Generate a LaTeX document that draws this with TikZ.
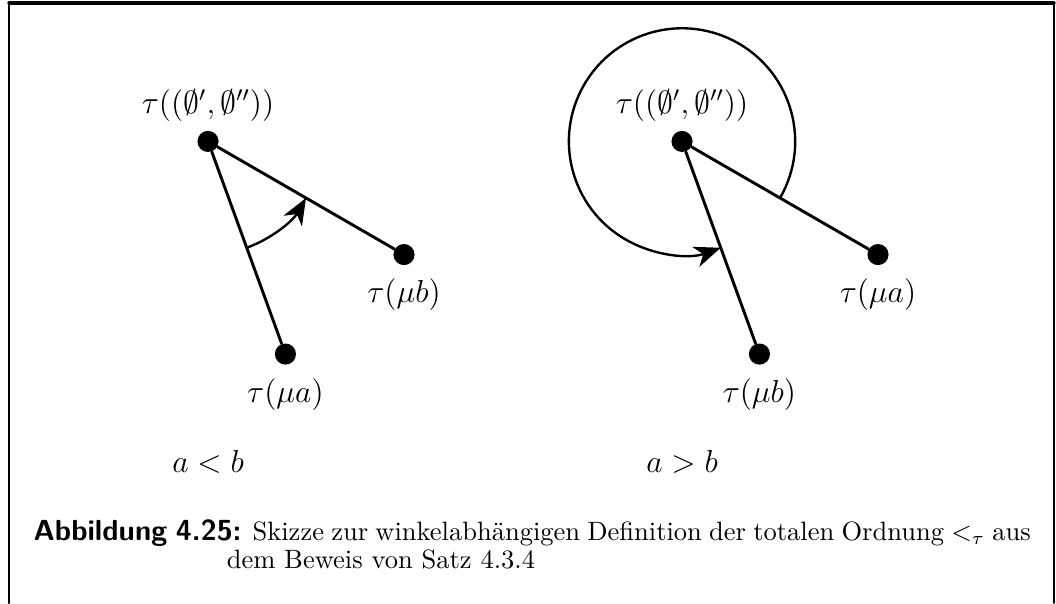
\documentclass[tikz,border=0pt]{standalone}
\usepackage{amsmath}
\usetikzlibrary{arrows.meta,positioning}

\begin{document}
\begin{tikzpicture}[
		line cap=round, line join=round,
		punkt/.style={circle, fill, inner sep=0pt, minimum size=0.28cm},
		strahl/.style={line width=1.1pt},
		winkel/.style={line width=0.9pt,
				-{Stealth[length=10pt, width=8pt, inset=3pt]}},
		lbl/.style={font=\large},
		capt/.style={anchor=base west, inner sep=0pt},
		rand/.style={line width=0.75pt}]

	\useasboundingbox (0,0) rectangle (14,7.995);

	% ---- Rahmen (unten offen) ----
	\coordinate (RLu) at (0.119,0);
	\coordinate (RLo) at (0.119,7.954);
	\coordinate (RRo) at (13.974,7.954);
	\coordinate (RRu) at (13.974,0);
	\draw[rand] (RLu) -- (RLo);
	\draw[line width=1.2pt] (RLo) -- (RRo);
	\draw[line width=0.55pt] (RRo) -- (RRu);

	% ================= Skizze (Makro, zweimal gezeichnet) =============
	% \skizze{x}{Name}{Marke bei -70}{Marke bei -30}{Start}{Ende}{Relation}
	\newcommand{\skizze}[7]{%
		\begin{scope}[shift={(#1,6.12)}]
			% Punkte
			\node[punkt] (#2o) at (0,0) {};
			\node[punkt] (#2u) at (-70:3) {};
			\node[punkt] (#2r) at (-30:3) {};
			% Strahlen
			\draw[strahl] (#2o) -- (#2u);
			\draw[strahl] (#2o) -- (#2r);
			% Winkelpfeil
			\draw[winkel] ([shift={(#5:1.5)}]#2o.center)
			arc[start angle=#5, end angle=#6, radius=1.5];
			% Beschriftungen
			\node[lbl, above=0pt of #2o] (#2ot) {$\tau((\emptyset',\emptyset''))$};
			\node[lbl, below=0.05cm of #2u] (#2ut) {$\tau(\mu #3)$};
			\node[lbl, below=0.05cm of #2r] (#2rt) {$\tau(\mu #4)$};
			\node[lbl] (#2rel) at (0,-4.25) {$#7$};
		\end{scope}}

	\skizze{2.758}{L}{a}{b}{-70}{-30}{a<b}
	\skizze{9.042}{R}{b}{a}{-30}{290}{a>b}

	% ---- Bildunterschrift ----
	\node[capt] (cap1) at (0.44,0.835)
	{\makebox[13.22cm][s]{{\fontsize{10.95}{13.6}\selectfont\sffamily\bfseries Abbildung 4.25:}
			Skizze zur winkelabhängigen Definition der totalen Ordnung $<_\tau$ aus}};
	\node[capt] (cap2) at (3.0,0.46)
	{dem Beweis von Satz 4.3.4};

\end{tikzpicture}
\end{document}
